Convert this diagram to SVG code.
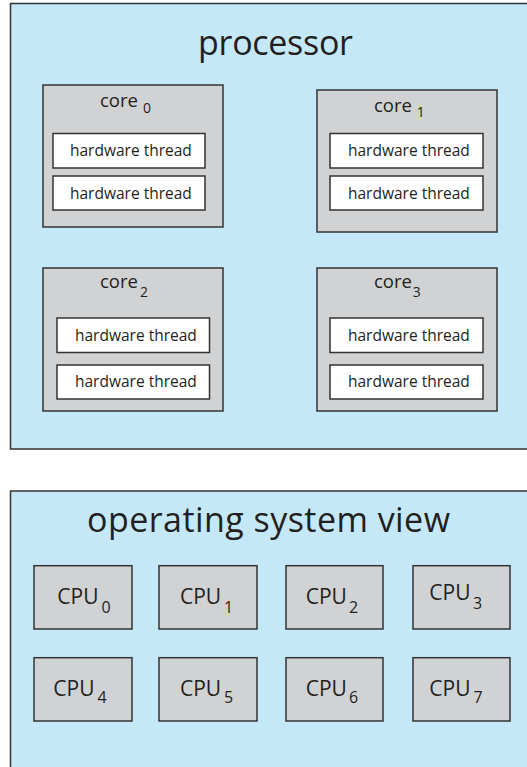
<svg xmlns="http://www.w3.org/2000/svg" width="527" height="767" viewBox="0 0 527 767">
<style>
.panel{fill:#c5e8f8;stroke:#333;stroke-width:1.5}
.core{fill:#d1d2d4;stroke:#333;stroke-width:1.5}
.thr{fill:#fff;stroke:#333;stroke-width:1.5}
.cpu{fill:#d1d2d4;stroke:#333;stroke-width:1.5}
text{font-family:"Open Sans","Noto Sans","Liberation Sans",sans-serif;fill:#231f20}
.title{font-size:34px}
.ht{font-size:15.5px}
.cl{font-size:18.5px}
.cs{font-size:14px}
.cpl{font-size:21px}
.cps{font-size:16px}
</style>
<rect width="527" height="767" fill="#fff"/>
<g id="processor">
<rect class="panel" x="10.5" y="3.5" width="540" height="445.5"/>
<text class="title" x="198" y="55" textLength="155">processor</text>
</g>
<g id="core0">
<rect class="core" x="43" y="85" width="180" height="142"/>
<text class="cl" x="100" y="107">core</text><text class="cs" x="143" y="112.7">0</text>
<rect class="thr" x="53" y="133.5" width="152" height="34.5"/>
<text class="ht" x="70" y="156">hardware thread</text>
<rect class="thr" x="53" y="176" width="152" height="34"/>
<text class="ht" x="70" y="199">hardware thread</text>
</g>
<g id="core1">
<rect class="core" x="317" y="90" width="180" height="142"/>
<text class="cl" x="374" y="111.7">core</text><text class="cs" x="416.7" y="117">1</text>
<rect class="thr" x="330" y="133.5" width="153" height="34.5"/>
<text class="ht" x="348" y="156">hardware thread</text>
<rect class="thr" x="330" y="176" width="153" height="34"/>
<text class="ht" x="348" y="199">hardware thread</text>
</g>
<g id="core2">
<rect class="core" x="43" y="268" width="180" height="143"/>
<text class="cl" x="100" y="288.3">core</text><text class="cs" x="140" y="296.7">2</text>
<rect class="thr" x="57" y="318" width="152.5" height="34.5"/>
<text class="ht" x="75" y="340.7">hardware thread</text>
<rect class="thr" x="57" y="365" width="152.5" height="34"/>
<text class="ht" x="75" y="387.3">hardware thread</text>
</g>
<g id="core3">
<rect class="core" x="317" y="268" width="180" height="143"/>
<text class="cl" x="374" y="288.3">core</text><text class="cs" x="412.7" y="296.7">3</text>
<rect class="thr" x="330" y="318" width="153" height="34.5"/>
<text class="ht" x="348" y="340.7">hardware thread</text>
<rect class="thr" x="330" y="365" width="153" height="34"/>
<text class="ht" x="348" y="387.3">hardware thread</text>
</g>
<g id="os-view">
<rect class="panel" x="10.5" y="491" width="540" height="300"/>
<text class="title" x="87" y="532" textLength="363">operating system view</text>
</g>
<g id="cpu0"><rect class="cpu" x="34" y="565.7" width="98" height="63.3"/><text class="cpl" x="57.3" y="604">CPU</text><text class="cps" x="101.5" y="612.7">0</text></g>
<g id="cpu1"><rect class="cpu" x="159" y="565.7" width="98" height="63.3"/><text class="cpl" x="180" y="604">CPU</text><text class="cps" x="224" y="612.7">1</text></g>
<g id="cpu2"><rect class="cpu" x="286" y="565.7" width="97" height="63.3"/><text class="cpl" x="305.7" y="604">CPU</text><text class="cps" x="349" y="612.7">2</text></g>
<g id="cpu3"><rect class="cpu" x="413" y="565.7" width="97" height="63.3"/><text class="cpl" x="429.3" y="600">CPU</text><text class="cps" x="473" y="609">3</text></g>
<g id="cpu4"><rect class="cpu" x="34" y="657.7" width="98" height="63.3"/><text class="cpl" x="53.3" y="696">CPU</text><text class="cps" x="97.5" y="703.3">4</text></g>
<g id="cpu5"><rect class="cpu" x="159" y="657.7" width="98" height="63.3"/><text class="cpl" x="180" y="696">CPU</text><text class="cps" x="224" y="703.3">5</text></g>
<g id="cpu6"><rect class="cpu" x="286" y="657.7" width="97" height="63.3"/><text class="cpl" x="305.7" y="696">CPU</text><text class="cps" x="349" y="703.3">6</text></g>
<g id="cpu7"><rect class="cpu" x="413" y="657.7" width="97" height="63.3"/><text class="cpl" x="429.3" y="696">CPU</text><text class="cps" x="473.5" y="703.3">7</text></g>
<g id="connectors"></g>
</svg>
